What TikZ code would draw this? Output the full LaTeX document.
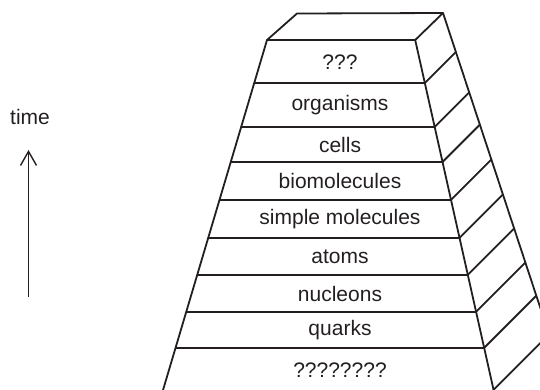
\documentclass[tikz,border=0pt]{standalone}
\usepackage{fontspec}
\setmainfont{Liberation Sans}
\usetikzlibrary{arrows.meta}
\definecolor{ink}{HTML}{231F20}
\tikzset{
  edge/.style={draw=ink, line width=1.8pt, line join=round, line cap=round},
  lbl/.style={inner sep=0pt, text=ink, font=\fontsize{21}{25}\selectfont, anchor=center},
}
\begin{document}
\begin{tikzpicture}[x=1pt, y=-1pt]
\useasboundingbox (0,0) rectangle (540,389);
\clip (0,0) rectangle (540,389);
% top face
\coordinate (FTL) at (267,40);
\coordinate (FTR) at (415.2,40);
\coordinate (BTL) at (297,13.5);
\coordinate (BTR) at (443,13);
\coordinate (BBR) at (575.7,415);
\coordinate (FBL) at (155.6,415);
\coordinate (FBR) at (499.2,415);
\draw[edge] (FTL) -- (BTL) -- (BTR) -- (FTR) -- cycle;
\draw[edge] (FTL) -- (FBL);
\draw[edge] (FTR) -- (FBR);
\draw[edge] (BTR) -- (BBR);
\foreach \y [count=\i] in {83,127,162,200,238,275,312,348,390} {
  \pgfmathsetmacro\xl{267-0.2964*(\y-40)}
  \pgfmathsetmacro\xr{415+0.2233*(\y-39)}
  \pgfmathsetmacro\t{(443+0.33*(\y-13)-\xr)/1.33}
  \coordinate (L\i) at (\xl,\y);
  \coordinate (R\i) at (\xr,\y);
  \coordinate (B\i) at (\xr+\t,\y-\t);
  \draw[edge] (R\i) -- (B\i);
  \ifnum\i<9 \draw[edge] (L\i) -- (R\i); \fi
}
% labels
\node[lbl] (n0) at (340,62) {???};
\node[lbl] (n1) at (340,105) {organisms};
\node[lbl] (n2) at (340,144.5) {cells};
\node[lbl] (n3) at (340,181) {biomolecules};
\node[lbl] (n4) at (340,219) {simple molecules};
\node[lbl] (n5) at (340,256.5) {atoms};
\node[lbl] (n6) at (340,293.5) {nucleons};
\node[lbl] (n7) at (340,330) {quarks};
\node[lbl] (n8) at (340,370) {????????};
% time arrow
\node[lbl] (time) at (30,117) {time};
\coordinate (ab) at (28.5,297);
\coordinate (at) at (28.5,150);
\draw[draw=ink, line width=1.4pt, -{Straight Barb[length=14pt,width=16pt,line width=1.4pt]}] (ab) -- (at);
\end{tikzpicture}
\end{document}
